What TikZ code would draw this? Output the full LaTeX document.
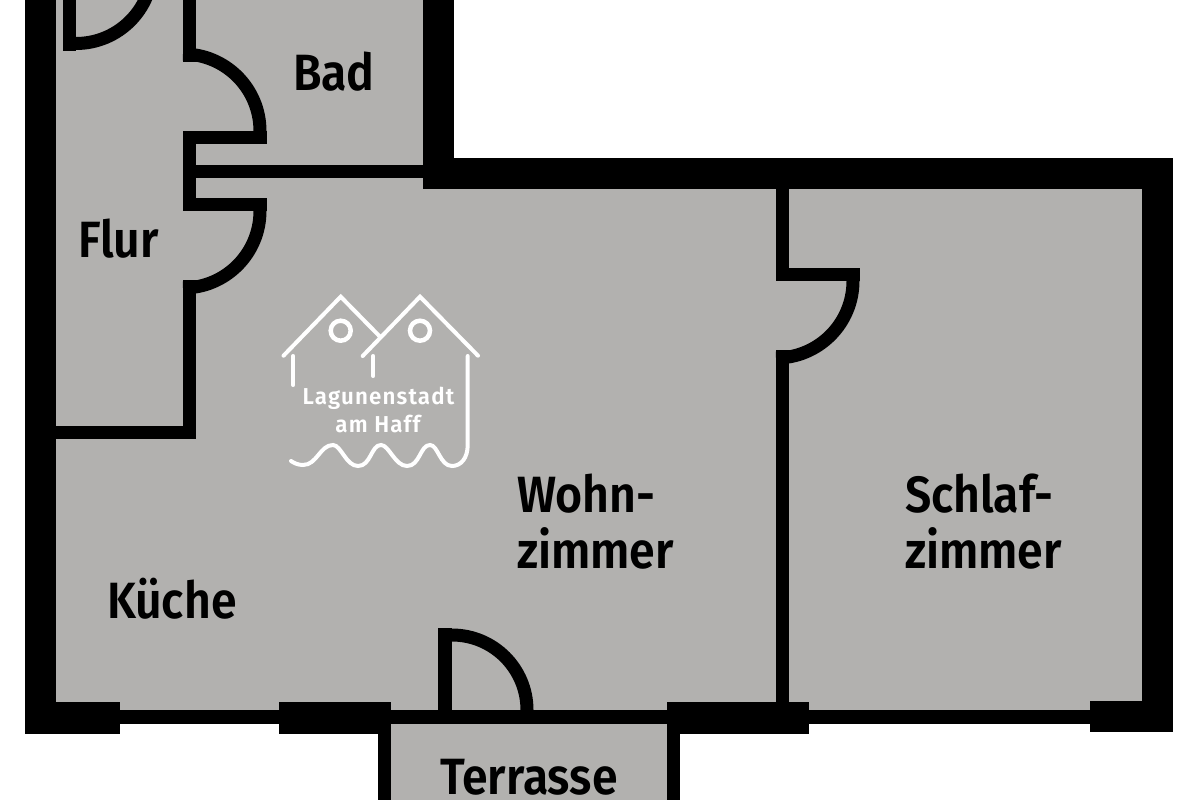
\documentclass[tikz,border=0pt]{standalone}
\usepackage{fontspec}
\setmainfont{Fira Sans}[BoldFont={Fira Sans SemiBold}]
\definecolor{roomgrey}{HTML}{B2B1AF}
\tikzset{
  wall/.style={fill=black,draw=none},
  doorarc/.style={draw=black,line width=13pt,line cap=butt},
  logoline/.style={draw=white,line width=4pt,line cap=round,line join=miter},
  room/.style={anchor=base west,inner sep=0pt,outer sep=0pt,text=black,font=\fontsize{51}{51}\selectfont\bfseries\addfontfeature{FakeStretch=0.91}},
  logotext/.style={anchor=base,inner sep=0pt,outer sep=0pt,text=white,font=\fontsize{23}{23}\selectfont\bfseries\addfontfeature{FakeStretch=0.97,LetterSpace=5}}
}
\begin{document}
\begin{tikzpicture}[x=1pt,y=-1pt]
\useasboundingbox (0,0) rectangle (1200,800);
\clip (0,0) rectangle (1200,800);
\fill[white] (0,0) rectangle (1200,800);
% rooms
\fill[roomgrey] (56,0) -- (423,0) -- (423,189) -- (1142,189) -- (1142,710) -- (56,710) -- cycle;
\fill[roomgrey] (391,724) rectangle (667,800);
% outer walls
\fill[wall] (25,0) rectangle (56,734);
\fill[wall] (25,702) rectangle (120,734);
\fill[wall] (120,710) rectangle (280,724);
\fill[wall] (279,702) rectangle (391,734);
\fill[wall] (391,710) rectangle (667,724);
\fill[wall] (667,702) rectangle (809,734);
\fill[wall] (809,710) rectangle (1090,724);
\fill[wall] (1090,701) rectangle (1173,732);
\fill[wall] (1142,158) rectangle (1173,732);
\fill[wall] (423,158) rectangle (1173,189);
\fill[wall] (423,0) rectangle (454,189);
% terrace walls
\fill[wall] (378,724) rectangle (391,800);
\fill[wall] (667,724) rectangle (680,800);
% inner walls
\fill[wall] (776,189) rectangle (789,281);
\fill[wall] (776,268) rectangle (860,281);
\fill[wall] (776,350) rectangle (789,702);
\fill[wall] (183,0) rectangle (196,62);
\fill[wall] (183,131) rectangle (267,144);
\fill[wall] (183,144) rectangle (196,198);
\fill[wall] (196,165) rectangle (423,178);
\fill[wall] (183,198) rectangle (267,211);
\fill[wall] (183,280) rectangle (196,439);
\fill[wall] (56,426) rectangle (196,439);
\fill[wall] (63,0) rectangle (76,51);
\fill[wall] (438,628) rectangle (452,710);
% door arcs
\draw[doorarc] (152.5,-33) arc[start angle=0,end angle=-90,radius=76.5pt];
\draw[doorarc] (260,131) arc[start angle=0,end angle=90,radius=77pt];
\draw[doorarc] (260,211) arc[start angle=0,end angle=-90,radius=77pt];
\draw[doorarc] (853,281) arc[start angle=0,end angle=-90,radius=77pt];
\draw[doorarc] (452,635) arc[start angle=90,end angle=0,radius=75pt];
% room labels
\node[room] (bad) at (293,90.5) {Bad};
\node[room] (flur) at (78,257.5) {Flur};
\node[room] (wohn) at (517,512.5) {Wohn-};
\node[room] (wzimmer) at (517,568.5) {zimmer};
\node[room] (schlaf) at (905,512.5) {Schlaf-};
\node[room] (szimmer) at (905,568.5) {zimmer};
\node[room] (kueche) at (107,618.5) {Küche};
\node[room] (terrasse) at (440,794.5) {Terrasse};
% logo
\draw[logoline] (283.5,355.7) -- (340.7,296.7) -- (380,336.7);
\draw[logoline] (362.7,356) -- (420,296.7) -- (478,355.7);
\draw[white,line width=4.5pt] (340.7,330.7) circle[radius=10pt];
\draw[white,line width=4.5pt] (420,330.7) circle[radius=10pt];
\draw[logoline] (293.3,356) -- (293.3,385);
\draw[logoline] (373.3,356) -- (373.3,376);
\draw[logoline] (467.7,356) -- (467.7,445)
  .. controls (467.7,458) and (461,466) .. (452,466)
  .. controls (440,466) and (438,445) .. (430,445)
  .. controls (420,445) and (420,466) .. (407,466)
  .. controls (395,466) and (389,445) .. (381,445)
  .. controls (371,445) and (371,466) .. (358,466)
  .. controls (346,466) and (341,445) .. (333,445)
  .. controls (320,445) and (317,465) .. (303,465)
  .. controls (298,465) and (294,463) .. (291,461);
\node[logotext] (logo1) at (378.5,404.5) {Lagunenstadt};
\node[logotext] (logo2) at (378,432) {am Haff};
\end{tikzpicture}
\end{document}
